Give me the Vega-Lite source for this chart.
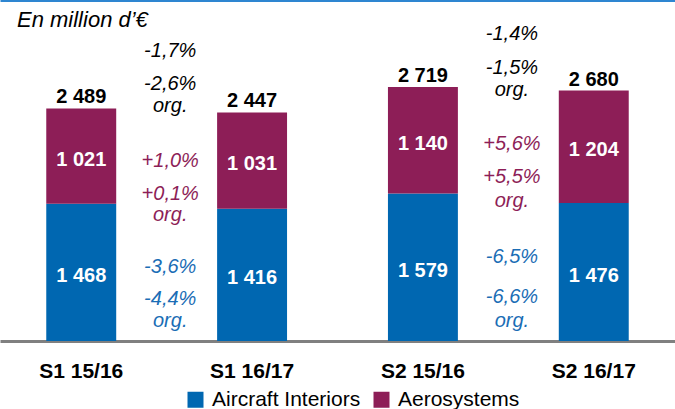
{
  "$schema": "https://vega.github.io/schema/vega-lite/v6.json",
  "width": 675,
  "height": 341,
  "padding": 0,
  "title": {"text": "En million d’€", "anchor": "start", "frame": "group", "orient": "top", "offset": -32, "dx": 17, "font": "Liberation Sans", "fontSize": 22, "fontStyle": "italic", "fontWeight": "normal", "color": "#000000"},
  "config": {
    "view": {"stroke": null},
    "font": "Liberation Sans",
    "locale": {"number": {"decimal": ",", "thousands": " ", "grouping": [3], "currency": ["", " €"]}}
  },
  "datasets": {
    "segments": [
      {"period": "S1 15/16", "segment": "Aircraft Interiors", "value": 1468},
      {"period": "S1 15/16", "segment": "Aerosystems", "value": 1021},
      {"period": "S1 16/17", "segment": "Aircraft Interiors", "value": 1416},
      {"period": "S1 16/17", "segment": "Aerosystems", "value": 1031},
      {"period": "S2 15/16", "segment": "Aircraft Interiors", "value": 1579},
      {"period": "S2 15/16", "segment": "Aerosystems", "value": 1140},
      {"period": "S2 16/17", "segment": "Aircraft Interiors", "value": 1476},
      {"period": "S2 16/17", "segment": "Aerosystems", "value": 1204}
    ],
    "notes": [
      {"period": "S1 15/16", "group": "total", "label": "-1,7%", "pos": 3041},
      {"period": "S1 15/16", "group": "total", "label": "-2,6%", "pos": 2690},
      {"period": "S1 15/16", "group": "total", "label": "org.", "pos": 2452},
      {"period": "S1 15/16", "group": "Aerosystems", "label": "+1,0%", "pos": 1861},
      {"period": "S1 15/16", "group": "Aerosystems", "label": "+0,1%", "pos": 1510},
      {"period": "S1 15/16", "group": "Aerosystems", "label": "org.", "pos": 1283},
      {"period": "S1 15/16", "group": "Aircraft Interiors", "label": "-3,6%", "pos": 730},
      {"period": "S1 15/16", "group": "Aircraft Interiors", "label": "-4,4%", "pos": 380},
      {"period": "S1 15/16", "group": "Aircraft Interiors", "label": "org.", "pos": 150},
      {"period": "S2 15/16", "group": "total", "label": "-1,4%", "pos": 3219},
      {"period": "S2 15/16", "group": "total", "label": "-1,5%", "pos": 2856},
      {"period": "S2 15/16", "group": "total", "label": "org.", "pos": 2625},
      {"period": "S2 15/16", "group": "Aerosystems", "label": "+5,6%", "pos": 2043},
      {"period": "S2 15/16", "group": "Aerosystems", "label": "+5,5%", "pos": 1690},
      {"period": "S2 15/16", "group": "Aerosystems", "label": "org.", "pos": 1436},
      {"period": "S2 15/16", "group": "Aircraft Interiors", "label": "-6,5%", "pos": 837},
      {"period": "S2 15/16", "group": "Aircraft Interiors", "label": "-6,6%", "pos": 406},
      {"period": "S2 15/16", "group": "Aircraft Interiors", "label": "org.", "pos": 150}
    ]
  },
  "resolve": {"axis": {"x": "independent"}},
  "layer": [
    {
      "data": {"name": "segments"},
      "transform": [
        {"stack": "value", "groupby": ["period"], "sort": [{"field": "segment", "order": "descending"}], "as": ["v0", "v1"]}
      ],
      "mark": {"type": "bar"},
      "encoding": {
        "x": {"field": "period", "type": "nominal", "sort": null,
          "scale": {"domain": ["S1 15/16", "S1 16/17", "S2 15/16", "S2 16/17"], "paddingInner": 0.5906, "paddingOuter": 0.2708},
          "axis": {"orient": "bottom", "title": null, "labelAngle": 0, "labelFont": "Liberation Sans", "labelFontSize": 21, "labelFontWeight": "bold", "labelColor": "#000000", "labelPadding": 19, "ticks": false, "tickSize": 0, "domainColor": "#808080", "domainWidth": 3}},
        "y": {"field": "v1", "type": "quantitative", "scale": {"domain": [0, 3650], "nice": false}, "axis": null},
        "y2": {"field": "v0"},
        "color": {"field": "segment", "type": "nominal",
          "scale": {"domain": ["Aircraft Interiors", "Aerosystems"], "range": ["#0067B1", "#8D1E57"]},
          "legend": {"orient": "none", "legendX": 185, "legendY": 389, "direction": "horizontal", "title": null, "symbolType": "square", "symbolSize": 256, "symbolStrokeWidth": 0, "labelFont": "Liberation Sans", "labelFontSize": 21, "labelColor": "#000000", "labelOffset": 6, "columnPadding": 10, "padding": 0, "labelLimit": 300}}
      }
    },
    {
      "data": {"name": "segments"},
      "transform": [
        {"stack": "value", "groupby": ["period"], "sort": [{"field": "segment", "order": "descending"}], "as": ["v0", "v1"]},
        {"calculate": "(datum.v0 + datum.v1) / 2", "as": "mid"}
      ],
      "mark": {"type": "text", "color": "#FFFFFF", "font": "Liberation Sans", "fontSize": 20, "fontWeight": "bold", "baseline": "middle", "align": "center", "dy": 3.5},
      "encoding": {
        "x": {"field": "period", "type": "nominal", "sort": null, "scale": {"domain": ["S1 15/16", "S1 16/17", "S2 15/16", "S2 16/17"], "paddingInner": 0.5906, "paddingOuter": 0.2708}, "axis": null},
        "y": {"field": "mid", "type": "quantitative", "scale": {"domain": [0, 3650], "nice": false}, "axis": null},
        "text": {"field": "value", "type": "quantitative", "format": ",d"}
      }
    },
    {
      "data": {"name": "segments"},
      "transform": [
        {"aggregate": [{"op": "sum", "field": "value", "as": "total"}], "groupby": ["period"]}
      ],
      "mark": {"type": "text", "color": "#000000", "font": "Liberation Sans", "fontSize": 20, "fontWeight": "bold", "baseline": "alphabetic", "align": "center", "dy": -5},
      "encoding": {
        "x": {"field": "period", "type": "nominal", "sort": null, "scale": {"domain": ["S1 15/16", "S1 16/17", "S2 15/16", "S2 16/17"], "paddingInner": 0.5906, "paddingOuter": 0.2708}, "axis": null},
        "y": {"field": "total", "type": "quantitative", "scale": {"domain": [0, 3650], "nice": false}, "axis": null},
        "text": {"field": "total", "type": "quantitative", "format": ",d"}
      }
    },
    {
      "data": {"name": "notes"},
      "transform": [{"filter": "datum.group === 'total'"}],
      "mark": {"type": "text", "color": "#000000", "font": "Liberation Sans", "fontSize": 20, "fontStyle": "italic", "baseline": "alphabetic", "align": "center", "dx": 89},
      "encoding": {
        "x": {"field": "period", "type": "nominal", "sort": null, "scale": {"domain": ["S1 15/16", "S1 16/17", "S2 15/16", "S2 16/17"], "paddingInner": 0.5906, "paddingOuter": 0.2708},
          "axis": {"orient": "top", "title": null, "labels": false, "ticks": false, "domainColor": "#2E86D1", "domainWidth": 3}},
        "y": {"field": "pos", "type": "quantitative", "scale": {"domain": [0, 3650], "nice": false}, "axis": null},
        "text": {"field": "label", "type": "nominal"}
      }
    },
    {
      "data": {"name": "notes"},
      "transform": [{"filter": "datum.group === 'Aerosystems'"}],
      "mark": {"type": "text", "color": "#8D1E57", "font": "Liberation Sans", "fontSize": 20, "fontStyle": "italic", "baseline": "alphabetic", "align": "center", "dx": 89},
      "encoding": {
        "x": {"field": "period", "type": "nominal", "sort": null, "scale": {"domain": ["S1 15/16", "S1 16/17", "S2 15/16", "S2 16/17"], "paddingInner": 0.5906, "paddingOuter": 0.2708}, "axis": null},
        "y": {"field": "pos", "type": "quantitative", "scale": {"domain": [0, 3650], "nice": false}, "axis": null},
        "text": {"field": "label", "type": "nominal"}
      }
    },
    {
      "data": {"name": "notes"},
      "transform": [{"filter": "datum.group === 'Aircraft Interiors'"}],
      "mark": {"type": "text", "color": "#1A6DB5", "font": "Liberation Sans", "fontSize": 20, "fontStyle": "italic", "baseline": "alphabetic", "align": "center", "dx": 89},
      "encoding": {
        "x": {"field": "period", "type": "nominal", "sort": null, "scale": {"domain": ["S1 15/16", "S1 16/17", "S2 15/16", "S2 16/17"], "paddingInner": 0.5906, "paddingOuter": 0.2708}, "axis": null},
        "y": {"field": "pos", "type": "quantitative", "scale": {"domain": [0, 3650], "nice": false}, "axis": null},
        "text": {"field": "label", "type": "nominal"}
      }
    }
  ]
}
